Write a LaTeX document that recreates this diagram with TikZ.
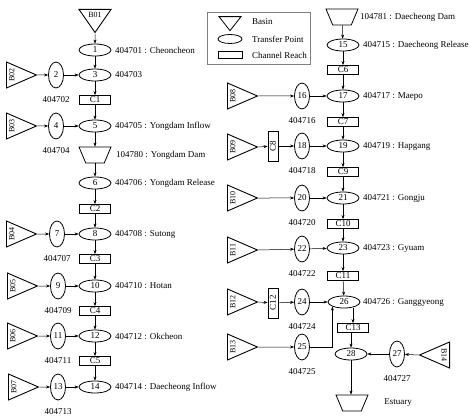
\documentclass[tikz,border=0pt]{standalone}
\usepackage{fontspec}
\setmainfont{Liberation Serif}
\usetikzlibrary{positioning,shapes.geometric,arrows.meta}

\begin{document}
\begin{tikzpicture}[x=1pt,y=-1pt,
    every node/.style={font=\fontsize{9}{10}\selectfont},
    flow/.style={->,>={Stealth[length=4pt,width=3pt]},line width=0.5pt},
    basin/.style={isosceles triangle,isosceles triangle stretches,draw,line width=0.9pt,
        inner sep=0pt,minimum width=26pt,minimum height=30pt,anchor=west,
        font=\fontsize{8}{9}\selectfont},
    tp/.style={ellipse,draw,line width=0.8pt,inner sep=0pt,minimum width=32pt,minimum height=12pt},
    side/.style={ellipse,draw,line width=0.8pt,inner sep=0pt,minimum width=15pt,minimum height=26pt},
    reach/.style={rectangle,draw,line width=0.8pt,inner sep=0pt,minimum width=31pt,minimum height=9pt},
    vreach/.style={rectangle,draw,line width=0.8pt,inner sep=0pt,minimum width=10pt,minimum height=30pt},
    dam/.style={trapezium,trapezium stretches,shape border rotate=180,trapezium angle=70,
        draw,line width=0.8pt,minimum width=32pt,minimum height=16pt},
    txt/.style={inner sep=0pt}
]

\useasboundingbox (0,0) rectangle (470,419);

% Legend
\draw[line width=0.4pt,gray] (207,12) rectangle (310,64);
\node[isosceles triangle,isosceles triangle stretches,draw,line width=0.8pt,inner sep=0pt,
    shape border rotate=270,minimum width=22pt,minimum height=14pt] (lgb) at (230,22) {};
\node[ellipse,draw,line width=0.8pt,minimum width=24pt,minimum height=9pt,inner sep=0pt] (lgt) at (230,39) {};
\node[rectangle,draw,line width=0.8pt,minimum width=24pt,minimum height=7pt,inner sep=0pt] (lgr) at (230,55) {};
\node[txt,anchor=west] at (252,22) {Basin};
\node[txt,anchor=west] at (252,39) {Transfer Point};
\node[txt,anchor=west] at (252,55) {Channel Reach};

% Left branch (Yongdam)
\node[basin,shape border rotate=270,minimum width=32pt,minimum height=23pt,anchor=north] (b01) at (95,9) {B01};
\node[tp] (p1) at (95,50) {1};
\node[tp] (p3) at (95,75) {3};
\node[reach] (c1) at (95,100) {C1};
\node[tp] (p5) at (95,126) {5};
\node[dam] (d1) at (95,155) {};
\node[tp] (p6) at (95,183) {6};
\node[reach] (c2) at (95,209) {C2};
\node[tp] (p8) at (95,234) {8};
\node[reach] (c3) at (95,259) {C3};
\node[tp] (p10) at (95,286) {10};
\node[reach] (c4) at (95,311) {C4};
\node[tp] (p12) at (95,336) {12};
\node[reach] (c5) at (95,361) {C5};
\node[tp] (p14) at (95,387) {14};

\node[side] (p2) at (56,75) {2};
\node[side] (p4) at (56,126) {4};
\node[side] (p7) at (57,234) {7};
\node[side] (p9) at (58,286) {9};
\node[side] (p11) at (58,336) {11};
\node[side] (p13) at (58,387) {13};

\node[basin] (b02) at (6,75) {\rotatebox{90}{B02}};
\node[basin] (b03) at (6,126) {\rotatebox{90}{B03}};
\node[basin] (b04) at (6,234) {\rotatebox{90}{B04}};
\node[basin] (b05) at (7,286) {\rotatebox{90}{B05}};
\node[basin] (b06) at (7,336) {\rotatebox{90}{B06}};
\node[basin] (b07) at (8,387) {\rotatebox{90}{B07}};

% Right branch (Daecheong)
\node[dam] (d2) at (342,17) {};
\node[tp] (p15) at (343,45) {15};
\node[reach] (c6) at (343,70) {C6};
\node[tp] (p17) at (343,96) {17};
\node[reach] (c7) at (343,122) {C7};
\node[tp] (p19) at (343,146) {19};
\node[reach] (c9) at (343,172) {C9};
\node[tp] (p21) at (343,198) {21};
\node[reach] (c10) at (343,224) {C10};
\node[tp] (p23) at (343,248) {23};
\node[reach] (c11) at (343,276) {C11};
\node[tp] (p26) at (344,302) {26};
\node[reach] (c13) at (353,328) {C13};
\node[tp] (p28) at (351,354) {28};
\node[dam] (est) at (352,403) {};

\node[side] (p16) at (302,96) {16};
\node[side] (p18) at (302,146) {18};
\node[side] (p20) at (302,198) {20};
\node[side] (p22) at (302,249) {22};
\node[side] (p24) at (302,302) {24};
\node[side] (p25) at (302,347) {25};
\node[side] (p27) at (397,354) {27};

\node[vreach] (c8) at (273,146) {\rotatebox{90}{C8}};
\node[vreach] (c12) at (273,303) {\rotatebox{90}{C12}};

\node[basin] (b08) at (227,96) {\rotatebox{90}{B08}};
\node[basin] (b09) at (227,147) {\rotatebox{90}{B09}};
\node[basin] (b10) at (227,198) {\rotatebox{90}{B10}};
\node[basin] (b11) at (227,250) {\rotatebox{90}{B11}};
\node[basin] (b12) at (227,302) {\rotatebox{90}{B12}};
\node[basin] (b13) at (227,347) {\rotatebox{90}{B13}};
\node[basin,shape border rotate=180,anchor=east] (b14) at (450,355) {\rotatebox{-90}{B14}};

% Labels of the main points
\node[txt,anchor=west] at (115,50) {404701 : Cheoncheon};
\node[txt,anchor=west] at (115,75) {404703};
\node[txt,anchor=west] at (115,126) {404705 : Yongdam Inflow};
\node[txt,anchor=west] at (116,155) {104780 : Yongdam Dam};
\node[txt,anchor=west] at (115,183) {404706 : Yongdam Release};
\node[txt,anchor=west] at (115,234) {404708 : Sutong};
\node[txt,anchor=west] at (115,286) {404710 : Hotan};
\node[txt,anchor=west] at (115,336) {404712 : Okcheon};
\node[txt,anchor=west] at (115,387) {404714 : Daecheong Inflow};
\node[txt,anchor=west] at (360,17) {104781 : Daecheong Dam};
\node[txt,anchor=west] at (363,45) {404715 : Daecheong Release};
\node[txt,anchor=west] at (363,96) {404717 : Maepo};
\node[txt,anchor=west] at (363,146) {404719 : Hapgang};
\node[txt,anchor=west] at (363,198) {404721 : Gongju};
\node[txt,anchor=west] at (363,248) {404723 : Gyuam};
\node[txt,anchor=west] at (363,302) {404726 : Ganggyeong};
\node[txt] at (398,403) {Estuary};

% Labels of the side points
\node[txt,below=8pt of p2] {404702};
\node[txt,below=8pt of p4] {404704};
\node[txt,below=8pt of p7] {404707};
\node[txt,below=8pt of p9] {404709};
\node[txt,below=8pt of p11] {404711};
\node[txt,below=8pt of p13] {404713};
\node[txt,below=8pt of p16] {404716};
\node[txt,below=8pt of p18] {404718};
\node[txt,below=8pt of p20] {404720};
\node[txt,below=8pt of p22] {404722};
\node[txt,below=8pt of p24] {404724};
\node[txt,below=8pt of p25] {404725};
\node[txt,below=8pt of p27] {404727};

% Main stems
\foreach \a/\b in {b01/p1,p1/p3,p3/c1,c1/p5,p5/d1,d1/p6,p6/c2,c2/p8,p8/c3,c3/p10,p10/c4,c4/p12,p12/c5,c5/p14,
    d2/p15,p15/c6,c6/p17,p17/c7,c7/p19,p19/c9,c9/p21,p21/c10,c10/p23,p23/c11,c11/p26}
    \draw[flow] (\a) -- (\b);
\draw[flow] (p26.south -| c13) -- (c13);
\draw[flow] (c13.south -| p28) -- (p28);
\draw[flow] (p28) -- (p28 |- est.north);

% Tributaries
\foreach \a/\b/\c in {b02/p2/p3,b03/p4/p5,b04/p7/p8,b05/p9/p10,b06/p11/p12,b07/p13/p14,
    b08/p16/p17,b10/p20/p21,b11/p22/p23,b14/p27/p28}{
    \draw[flow] (\a.apex) -- (\b);
    \draw[flow] (\b) -- (\c);
}
\draw[flow] (b09.apex) -- (c8);
\draw[flow] (c8) -- (p18);
\draw[flow] (p18) -- (p19);
\draw[flow] (b12.apex) -- (c12);
\draw[flow] (c12) -- (p24);
\draw[flow] (p24) -- (p26);
\draw[flow] (b13.apex) -- (p25);
\draw[flow] (p25.east) -| (p26.south west);

\end{tikzpicture}
\end{document}
